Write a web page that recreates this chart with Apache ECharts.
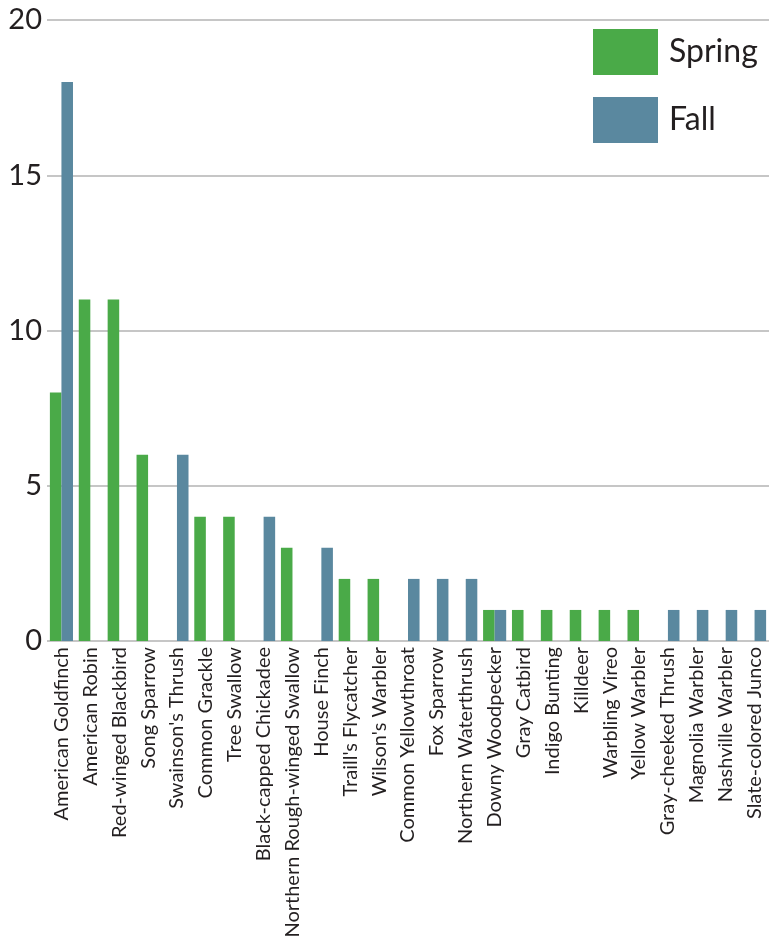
<!DOCTYPE html>
<html>
<head>
<meta charset="utf-8">
<script src="https://cdn.jsdelivr.net/npm/echarts@6/dist/echarts.min.js"></script>
<style>
  html, body { margin: 0; padding: 0; background: #fff; }
  #chart { width: 769px; height: 942px; }
</style>
</head>
<body>
<div id="chart"></div>
<script>
var birds = [
  'American Goldfinch', 'American Robin', 'Red-winged Blackbird', 'Song Sparrow',
  "Swainson's Thrush", 'Common Grackle', 'Tree Swallow', 'Black-capped Chickadee',
  'Northern Rough-winged Swallow', 'House Finch', "Traill's Flycatcher", "Wilson's Warbler",
  'Common Yellowthroat', 'Fox Sparrow', 'Northern Waterthrush', 'Downy Woodpecker',
  'Gray Catbird', 'Indigo Bunting', 'Killdeer', 'Warbling Vireo', 'Yellow Warbler',
  'Gray-cheeked Thrush', 'Magnolia Warbler', 'Nashville Warbler', 'Slate-colored Junco'
]
var spring = [8, 11, 11, 6, 0, 4, 4, 0, 3, 0, 2, 2, 0, 0, 0, 1, 1, 1, 1, 1, 1, 0, 0, 0, 0]
var fall = [18, 0, 0, 0, 6, 0, 0, 4, 0, 3, 0, 0, 2, 2, 2, 1, 0, 0, 0, 0, 0, 1, 1, 1, 1]
var yTicks = [0, 5, 10, 15, 20]

var font = 'Lato, "Open Sans", sans-serif'

var myChart = echarts.init(document.getElementById('chart'))
myChart.setOption({
  animation: false,
  backgroundColor: '#fff',
  legend: {
    orient: 'vertical',
    left: 593,
    top: 29,
    padding: 0,
    itemWidth: 65,
    itemHeight: 46,
    itemGap: 22,
    icon: 'rect',
    textStyle: { fontSize: 32, color: '#231f20', fontFamily: font, padding: [0, 0, 0, 6] },
    data: ['Spring', 'Fall']
  },
  grid: {
    left: 47,
    width: 724,
    top: 20,
    bottom: 301,
    containLabel: false
  },
  xAxis: {
    type: 'category',
    data: birds,
    axisLine: { show: false },
    axisTick: { show: false },
    axisLabel: {
      rotate: 90,
      interval: 0,
      margin: 6,
      fontSize: 20,
      color: '#231f20',
      fontFamily: font
    }
  },
  yAxis: {
    type: 'value',
    min: yTicks[0],
    max: yTicks[yTicks.length - 1],
    interval: 5,
    axisLine: { show: false },
    axisTick: { show: false },
    axisLabel: { fontSize: 29, color: '#231f20', margin: 5, fontFamily: font },
    splitLine: { lineStyle: { color: '#b3b3b3', width: 1.5 } }
  },
  series: [
    {
      name: 'Spring',
      type: 'bar',
      data: spring,
      barGap: '0%',
      barCategoryGap: '20%',
      itemStyle: { color: '#4aaa48' }
    },
    {
      name: 'Fall',
      type: 'bar',
      data: fall,
      barGap: '0%',
      barCategoryGap: '20%',
      itemStyle: { color: '#5a889f' }
    }
  ]
})
</script>
</body>
</html>
